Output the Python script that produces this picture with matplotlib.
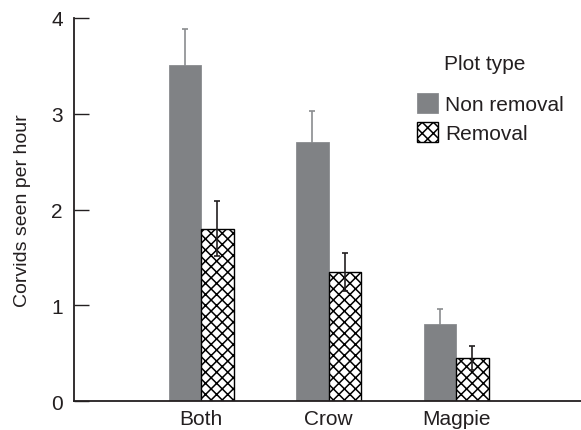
import matplotlib.pyplot as plt
import numpy as np

plt.rcParams['font.family'] = ['Liberation Sans', 'DejaVu Sans']
plt.rcParams['hatch.linewidth'] = 1.1

categories = ['Both', 'Crow', 'Magpie']
non_removal = [3.51, 2.71, 0.81]
non_removal_se = [0.38, 0.32, 0.15]
removal = [1.80, 1.35, 0.45]
removal_se = [0.29, 0.20, 0.13]

txt = '#231f20'
grey = '#808285'

fig = plt.figure(figsize=(5.81, 4.31), dpi=100)
ax = fig.add_axes([0.127, 0.067, 0.873, 0.889])

x = np.arange(1, len(categories) + 1)
w = 0.255

# error bars behind the solid bars so only the upper half shows
ax.bar(x - w/2, non_removal, w, color=grey, edgecolor='#8a8c8f', linewidth=0.6,
       yerr=non_removal_se, ecolor='#8a8c8f', capsize=2.5, zorder=2,
       error_kw=dict(elinewidth=1.2, capthick=1.2, zorder=1), label='Non removal')
ax.bar(x + w/2, removal, w, color='white', edgecolor='black', linewidth=1.0,
       hatch='xxx', yerr=removal_se, ecolor=txt, capsize=2.5, zorder=2,
       error_kw=dict(elinewidth=1.2, capthick=1.2, zorder=3), label='Removal')

ax.set_xlim(0, 3.98)
ax.set_ylim(0, 4)
ax.set_xticks(x)
ax.set_xticklabels(categories)
ax.set_yticks([0, 1, 2, 3, 4])

for s in ['top', 'right']:
    ax.spines[s].set_visible(False)
for s in ['left', 'bottom']:
    ax.spines[s].set_color(txt)
    ax.spines[s].set_linewidth(1.3)
    ax.spines[s].set_zorder(4)

ax.tick_params(axis='y', direction='in', length=11, width=1.0, color=txt,
               labelsize=15, labelcolor=txt, pad=8)
ax.tick_params(axis='x', length=0, labelsize=15, labelcolor=txt, pad=6)
ax.set_ylabel('Corvids seen per hour', fontsize=14, color=txt, labelpad=14)

ax.text(0.729, 0.88, 'Plot type', transform=ax.transAxes, fontsize=15,
        color=txt, va='center', ha='left')
leg = ax.legend(loc='upper left', bbox_to_anchor=(0.66, 0.825), frameon=False,
                fontsize=15, handlelength=1.0, handleheight=1.1,
                handletextpad=0.35, labelspacing=0.35, borderaxespad=0)
for t in leg.get_texts():
    t.set_color(txt)

fig.savefig('out.png', dpi=100)
